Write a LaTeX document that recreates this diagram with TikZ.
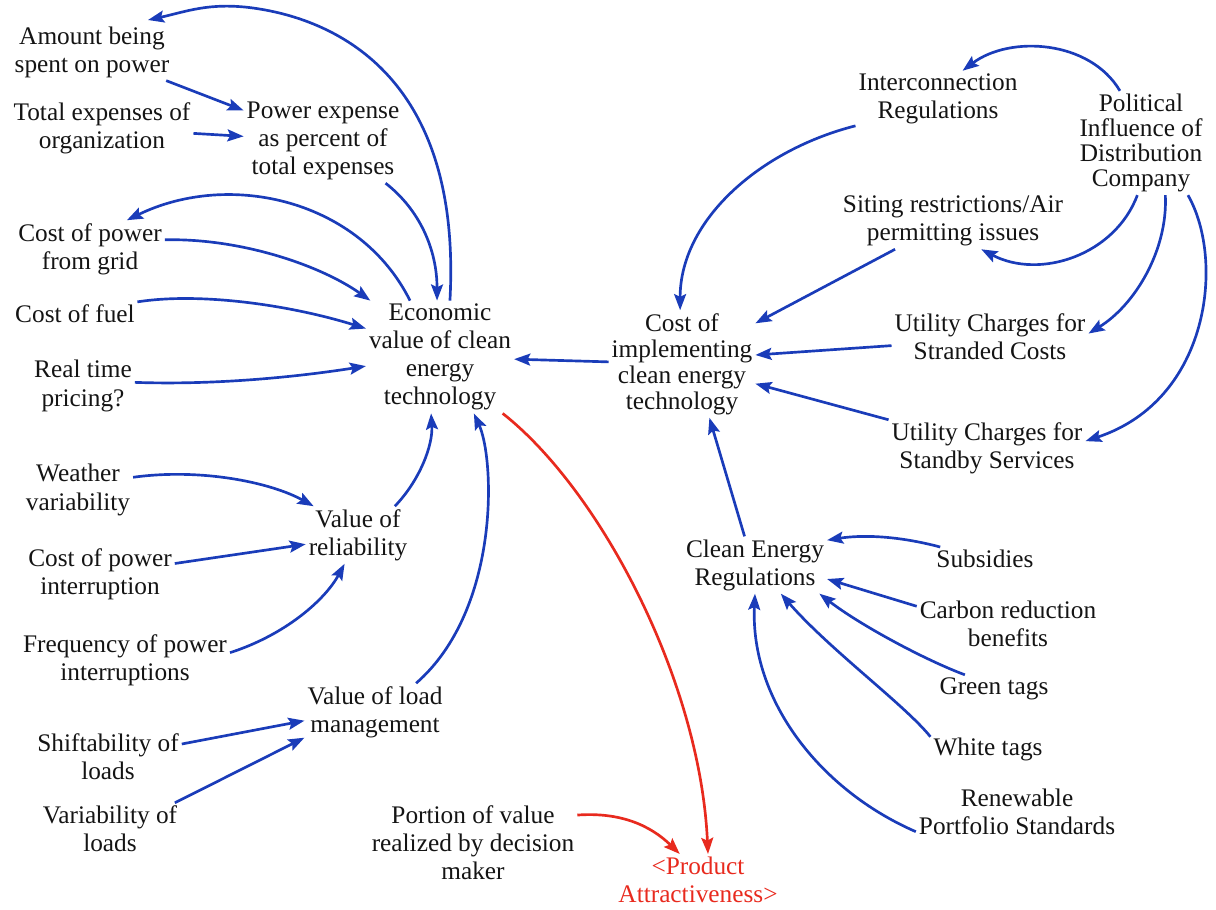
\documentclass[tikz,border=0pt]{standalone}
\usepackage{fontspec}
\setmainfont{Liberation Serif}
\usetikzlibrary{arrows.meta}
\definecolor{linkblue}{RGB}{26,60,185}
\definecolor{linkred}{RGB}{232,42,30}
\tikzset{
  var/.style={align=center, font=\fontsize{18}{20}\selectfont, inner sep=2pt, text=black!92},
  link/.style={draw=linkblue, line width=1.9pt,
    -{Stealth[length=11.5pt,width=8.5pt,inset=2pt]}},
  redlink/.style={link, draw=linkred},
}
\begin{document}
\begin{tikzpicture}[x=0.025cm, y=0.025cm]
\useasboundingbox (0,0) rectangle (1216,-909);
\clip (0,0) rectangle (1216,-909);

% ---- economic value side ----
\node[var] (amt) at (92,-52) {Amount being\\spent on power};
\node[var] (tot) at (102,-128) {Total expenses of\\organization};
\node[var] (pep) at (323,-141) {Power expense\\as percent of\\total expenses};
\node[var] (cpg) at (90,-249) {Cost of power\\from grid};
\node[var] (cof) at (75,-314) {Cost of fuel};
\node[var] (rtp) at (83,-386) {Real time\\pricing?};
\node[var] (eco) at (440,-357) {Economic\\value of clean\\energy\\technology};
\node[var] (wv) at (78,-490) {Weather\\variability};
\node[var] (cpi) at (100,-574) {Cost of power\\interruption};
\node[var] (fpi) at (125,-660) {Frequency of power\\interruptions};
\node[var] (vor) at (358,-535) {Value of\\reliability};
\node[var] (vlm) at (375,-712) {Value of load\\management};
\node[var] (shl) at (108,-757) {Shiftability of\\loads};
\node[var] (vol) at (110,-829) {Variability of\\loads};
\node[var] (por) at (473,-843) {Portion of value\\realized by decision\\maker};
\node[var, text=linkred] (pa) at (698,-880) {<Product\\Attractiveness>};

% ---- cost side ----
\node[var] (icr) at (938,-99) {Interconnection\\Regulations};
\node[var, font=\fontsize{18}{17.8}\selectfont] (pol) at (1141,-143) {Political\\Influence of\\Distribution\\Company};
\node[var] (sit) at (953,-221) {Siting restrictions/Air\\permitting issues};
\node[var, font=\fontsize{18}{18.5}\selectfont] (cit) at (682,-364) {Cost of\\implementing\\clean energy\\technology};
\node[var] (ucs) at (990,-337) {Utility Charges for\\Stranded Costs};
\node[var] (ucsb) at (987,-448) {Utility Charges for\\Standby Services};
\node[var] (cer) at (755,-565) {Clean Energy\\Regulations};
\node[var] (sub) at (985,-559) {Subsidies};
\node[var] (crb) at (1008,-624) {Carbon reduction\\benefits};
\node[var] (gt) at (994,-689) {Green tags};
\node[var] (wt) at (988,-749) {White tags};
\node[var] (rps) at (1017,-812) {Renewable\\Portfolio Standards};

\coordinate (offtop) at (148,-20);

% ---- links into the economic value ----
\draw[link] (amt) -- (pep);
\draw[link] (tot) -- (pep);
\draw[link] (pep.-34) .. controls (420,-210) and (437,-250) .. (eco.93);
\draw[link] (eco.80) .. controls (462,-80) and (340,-20) .. (253,-8)
                     .. controls (209,-2) and (185,-12) .. (offtop);
\draw[link] (eco.118) .. controls (360,-200) and (230,-170) .. (cpg.38);
\draw[link] (cpg.7) .. controls (240,-238) and (320,-265) .. (eco.141);
\draw[link] (cof.11) .. controls (200,-292) and (290,-305) .. (eco.159);
\draw[link] (rtp.4) .. controls (210,-385) and (290,-378) .. (eco.187);
\draw[link] (vor.38) .. controls (420,-480) and (433,-445) .. (eco.261);
\draw[link] (vlm.35) .. controls (500,-610) and (495,-460) .. (eco.-59);
\draw[link] (wv.13) .. controls (200,-468) and (270,-482) .. (vor.147);
\draw[link] (cpi.8) -- (vor.190);
\draw[link] (fpi.4) .. controls (285,-635) and (325,-600) .. (vor.-115);
\draw[link] (shl.10) -- (vlm.187);
\draw[link] (vol.22) -- (vlm.200);
\draw[redlink] (eco.-42) .. controls (600,-490) and (700,-680) .. (pa.69);
\draw[redlink] (por.15) .. controls (620,-812) and (650,-825) .. (pa.125);

% ---- links into the implementation cost ----
\draw[link] (cit) -- (eco);
\draw[link] (icr.198) .. controls (760,-150) and (680,-220) .. (cit.92);
\draw[link] (pol.112) .. controls (1090,-40) and (1010,-35) .. (icr.49);
\draw[link] (pol.-94) .. controls (1115,-255) and (1040,-280) .. (sit.-45);
\draw[link] (sit.206) -- (cit.29);
\draw[link] (pol.-65) .. controls (1168,-250) and (1135,-305) .. (ucs.2);
\draw[link] (pol.-48) .. controls (1225,-260) and (1210,-400) .. (ucsb.4);
\draw[link] (ucs.185) -- (cit.7);
\draw[link] (ucsb.164) -- (cit.-15);
\draw[link] (cer.110) -- (cit.-63);
\draw[link] (sub.165) .. controls (895,-535) and (860,-535) .. (cer.19);
\draw[link] (crb.169) -- (cer.-11);
\draw[link] (gt.154) .. controls (925,-660) and (860,-625) .. (cer.-24);
\draw[link] (wt.168) .. controls (905,-705) and (830,-650) .. (cer.-48);
\draw[link] (rps.191) .. controls (820,-790) and (750,-700) .. (cer.-90);
\end{tikzpicture}
\end{document}
